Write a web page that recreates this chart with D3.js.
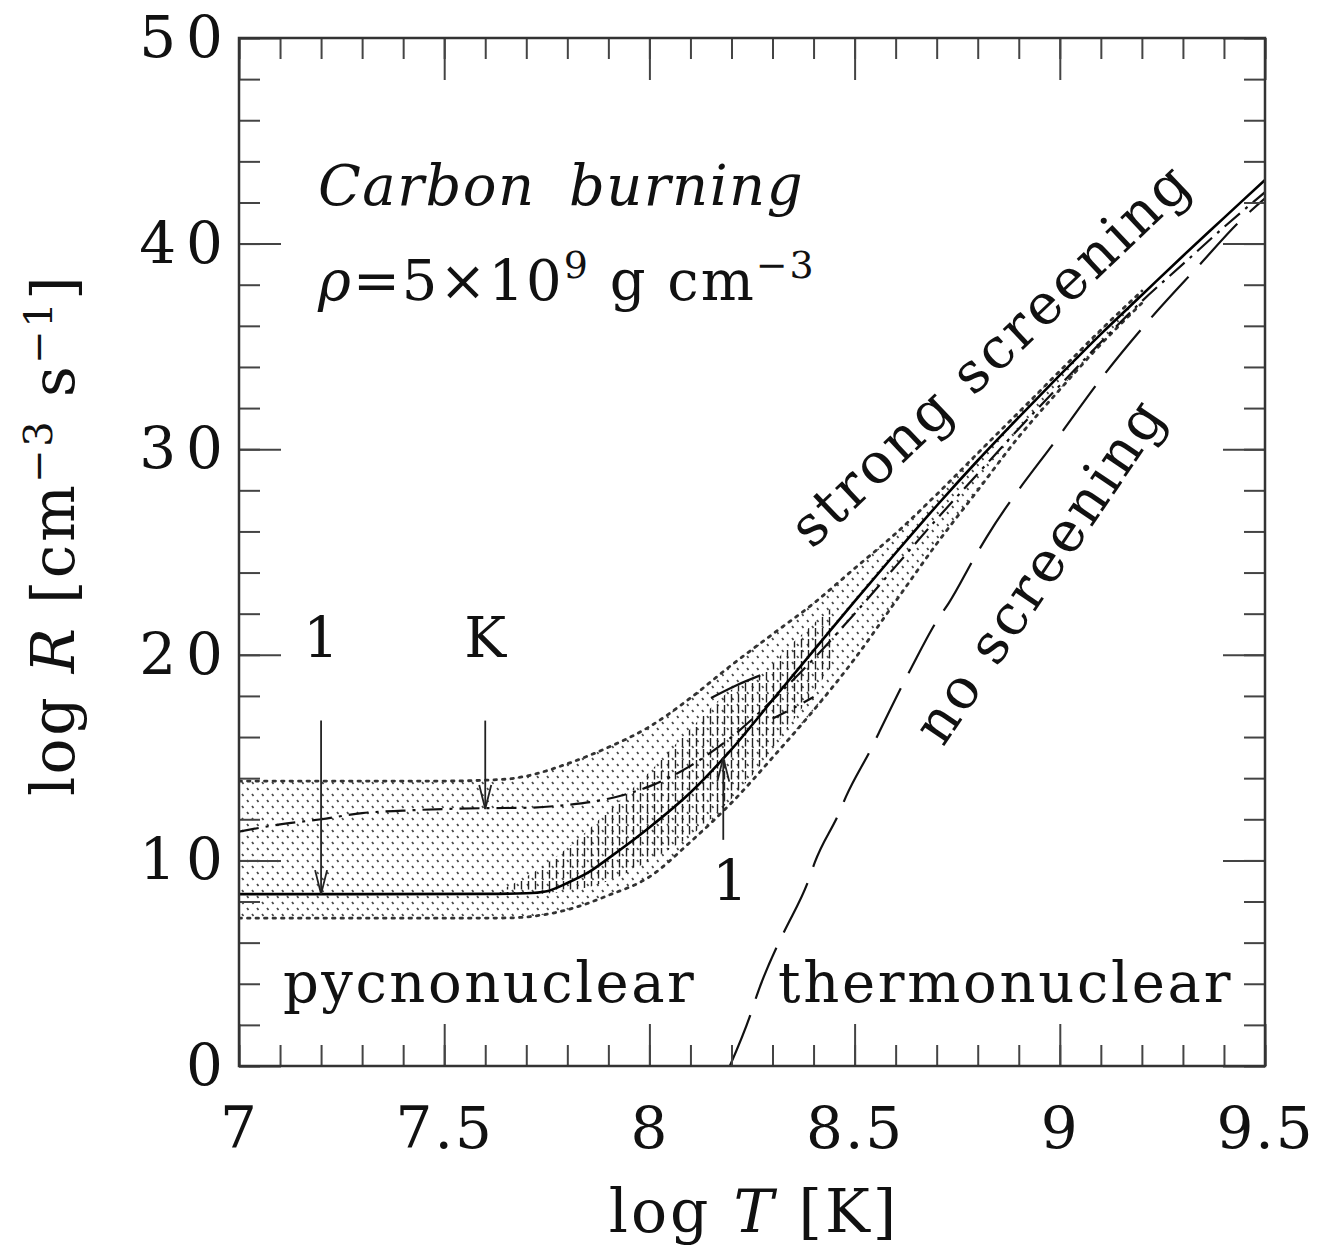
<!DOCTYPE html>
<html>
<head>
<meta charset="utf-8">
<script src="https://cdn.jsdelivr.net/npm/d3@7"></script>
<style>
  body { margin: 0; background: #fff; }
  text { font-family: "DejaVu Serif", serif; fill: #111; }
</style>
</head>
<body>
<div id="root"></div>
<script>
// ---- data ----
// strong screening, model 1 (solid)
const solidT = [7.0, 7.3, 7.6, 7.7, 7.75, 7.8, 7.85, 7.9, 8.0, 8.1, 8.2, 8.3, 8.4, 8.5, 8.6, 8.7, 8.8, 8.9, 9.0, 9.1, 9.2, 9.3, 9.4, 9.5];
const solidR = [8.36, 8.36, 8.37, 8.4, 8.5, 8.9, 9.4, 10.1, 11.6, 13.3, 15.4, 17.8, 20.2, 22.6, 24.95, 27.25, 29.45, 31.55, 33.6, 35.6, 37.5, 39.4, 41.25, 43.1];
// model K (dash-dot)
const kT = [7.0, 7.1, 7.2, 7.3, 7.4, 7.5, 7.6, 7.7, 7.8, 7.9, 8.0, 8.1, 8.2, 8.3, 8.4, 8.5, 8.6, 8.7, 8.8, 8.9, 9.0, 9.1, 9.2, 9.3, 9.4, 9.5];
const kR = [11.4, 11.75, 12.0, 12.3, 12.42, 12.5, 12.54, 12.56, 12.7, 13.0, 13.6, 14.6, 16.0, 17.8, 19.8, 22.0, 24.3, 26.6, 28.8, 31.0, 33.1, 35.2, 37.2, 39.0, 40.8, 42.5];
// no screening (long dashes)
const noScrT = [8.196, 8.248, 8.262, 8.313, 8.330, 8.389, 8.403, 8.462, 8.479, 8.542, 8.559, 8.639, 8.705, 8.729, 8.797, 8.821, 9.004, 9.111, 9.223, 9.342, 9.434, 9.5];
const noScrR = [0, 2.6, 3.45, 5.9, 6.6, 9.1, 9.9, 12.3, 13.1, 15.5, 16.2, 19.4, 21.8, 22.5, 24.9, 25.7, 30.8, 33.7, 36.4, 39.0, 41.0, 42.2];
// dotted uncertainty band
const bandT = [7.0, 7.5, 7.65, 7.7, 7.8, 7.9, 8.0, 8.1, 8.2, 8.3, 8.4, 8.5, 8.6, 8.7, 8.8, 8.9, 9.0, 9.1, 9.2];
const bandUpper = [13.86, 13.86, 13.95, 14.1, 14.7, 15.5, 16.5, 17.9, 19.5, 21.0, 22.5, 24.2, 25.9, 27.8, 29.8, 31.8, 33.8, 35.8, 37.7];
const bandLower = [7.19, 7.19, 7.2, 7.25, 7.6, 8.3, 9.2, 10.9, 12.8, 15.0, 17.3, 19.8, 22.6, 25.4, 28.0, 30.6, 32.9, 35.1, 37.1];
// hatched region around model 1
const hatchT = [7.62, 7.7, 7.8, 7.9, 8.0, 8.1, 8.2, 8.27, 8.35, 8.45];
const hatchUpper = [8.4, 9.2, 10.6, 12.4, 14.3, 16.4, 18.3, 19.0, 20.6, 22.4];
const hatchLower = [8.36, 8.36, 8.5, 9.0, 10.0, 11.2, 13.0, 14.6, 16.8, 19.6];
// short fragments
const edgeT = [8.15, 8.21, 8.27];
const edgeR = [17.9, 18.5, 19.0];
const fragT = [8.30, 8.35, 8.40];
const fragR = [16.9, 17.4, 17.95];
// axes
const xTicks = [7, 7.5, 8, 8.5, 9, 9.5];
const xTickLabels = ["7", "7.5", "8", "8.5", "9", "9.5"];
const yTicks = [0, 10, 20, 30, 40, 50];
const xMinor = d3.range(70, 96).map(d => d / 10);
const yMinor = d3.range(0, 51, 2);
// arrows: [logT, from logR, to logR]
const arrows = [[7.2, 16.8, 8.36], [7.6, 16.8, 12.5], [8.18, 11.0, 15.0]];

window.onload = function() { init(); };

let init = () => {
  const W = 1322, H = 1256;
  const svg = d3.select("#root").append("svg").attr("width", W).attr("height", H);
  const x = d3.scaleLinear().domain([7, 9.5]).range([239, 1265]);
  const y = d3.scaleLinear().domain([0, 50]).range([1066, 38]);

  const defs = svg.append("defs");
  const dots = defs.append("pattern").attr("id", "dots").attr("patternUnits", "userSpaceOnUse")
    .attr("width", 10).attr("height", 12);
  dots.append("path").attr("d", "M2,2 L3.5,4").attr("stroke", "#444").attr("stroke-width", 1.7);
  dots.append("path").attr("d", "M7,8 L8.5,10").attr("stroke", "#444").attr("stroke-width", 1.7);
  const hatch = defs.append("pattern").attr("id", "hatch").attr("patternUnits", "userSpaceOnUse")
    .attr("width", 7).attr("height", 11);
  hatch.append("path").attr("d", "M3.5,1 L3.5,9.5").attr("stroke", "#222").attr("stroke-width", 1.4);
  defs.append("clipPath").attr("id", "clip").append("rect")
    .attr("x", 239).attr("y", 38).attr("width", 1026).attr("height", 1028);

  const plot = svg.append("g").attr("clip-path", "url(#clip)");
  const pairs = (a, b) => a.map((t, i) => [t, b[i]]);
  const line = d3.line().x(d => x(d[0])).y(d => y(d[1])).curve(d3.curveMonotoneX);

  // dotted band
  plot.append("path").datum(bandT)
    .attr("d", d3.area().x(d => x(d)).y0((d, i) => y(bandLower[i])).y1((d, i) => y(bandUpper[i])).curve(d3.curveMonotoneX))
    .attr("fill", "url(#dots)");
  [bandUpper, bandLower].forEach(b => {
    plot.append("path").datum(pairs(bandT, b)).attr("d", line)
      .attr("fill", "none").attr("stroke", "#333").attr("stroke-width", 2.8)
      .attr("stroke-dasharray", "2.5,6").attr("stroke-linecap", "round");
  });

  // hatched region
  plot.append("path").datum(hatchT)
    .attr("d", d3.area().x(d => x(d)).y0((d, i) => y(hatchLower[i])).y1((d, i) => y(hatchUpper[i])).curve(d3.curveMonotoneX))
    .attr("fill", "url(#hatch)");

  // curves
  plot.append("path").datum(pairs(noScrT, noScrR)).attr("d", line)
    .attr("fill", "none").attr("stroke", "#111").attr("stroke-width", 2.2).attr("stroke-dasharray", "55,17");
  plot.append("path").datum(pairs(kT, kR)).attr("d", line)
    .attr("fill", "none").attr("stroke", "#111").attr("stroke-width", 2.2).attr("stroke-dasharray", "20,7,3,7");
  plot.append("path").datum(pairs(solidT, solidR)).attr("d", line)
    .attr("fill", "none").attr("stroke", "#000").attr("stroke-width", 2.6);
  plot.append("path").datum(pairs(edgeT, edgeR)).attr("d", line)
    .attr("fill", "none").attr("stroke", "#111").attr("stroke-width", 2.2);
  plot.append("path").datum(pairs(fragT, fragR)).attr("d", line)
    .attr("fill", "none").attr("stroke", "#111").attr("stroke-width", 2.2).attr("stroke-dasharray", "16,8,3,8");

  // arrows
  arrows.forEach(a => {
    const ax = x(a[0]), y0 = y(a[1]), y1 = y(a[2]);
    const dir = y1 > y0 ? 1 : -1;
    svg.append("line").attr("x1", ax).attr("x2", ax).attr("y1", y0).attr("y2", y1)
      .attr("stroke", "#222").attr("stroke-width", 1.8);
    svg.append("path").attr("d", `M${ax - 6},${y1 - dir * 24} L${ax},${y1} L${ax + 6},${y1 - dir * 24}`)
      .attr("fill", "none").attr("stroke", "#222").attr("stroke-width", 1.8);
  });

  // axes with inward ticks on all four sides
  const axG = svg.append("g");
  const clean = g => { g.select(".domain").remove(); g.selectAll("line").attr("stroke", "#444").attr("stroke-width", 2); };
  axG.append("g").attr("transform", "translate(0,1066)")
    .call(d3.axisBottom(x).tickValues(xMinor).tickSizeInner(-21).tickSizeOuter(0).tickFormat("")).call(clean);
  axG.append("g").attr("transform", "translate(0,38)")
    .call(d3.axisTop(x).tickValues(xMinor).tickSizeInner(-21).tickSizeOuter(0).tickFormat("")).call(clean);
  axG.append("g").attr("transform", "translate(239,0)")
    .call(d3.axisLeft(y).tickValues(yMinor).tickSizeInner(-21).tickSizeOuter(0).tickFormat("")).call(clean);
  axG.append("g").attr("transform", "translate(1265,0)")
    .call(d3.axisRight(y).tickValues(yMinor).tickSizeInner(-21).tickSizeOuter(0).tickFormat("")).call(clean);

  const xb = axG.append("g").attr("transform", "translate(0,1066)")
    .call(d3.axisBottom(x).tickValues(xTicks).tickSizeInner(-42).tickSizeOuter(0).tickPadding(41)
      .tickFormat((d, i) => xTickLabels[i])).call(clean);
  axG.append("g").attr("transform", "translate(0,38)")
    .call(d3.axisTop(x).tickValues(xTicks).tickSizeInner(-42).tickSizeOuter(0).tickFormat("")).call(clean);
  const yl = axG.append("g").attr("transform", "translate(239,0)")
    .call(d3.axisLeft(y).tickValues(yTicks).tickSizeInner(-42).tickSizeOuter(0).tickPadding(6)).call(clean);
  axG.append("g").attr("transform", "translate(1265,0)")
    .call(d3.axisRight(y).tickValues(yTicks).tickSizeInner(-42).tickSizeOuter(0).tickFormat("")).call(clean);
  [xb, yl].forEach(g => g.selectAll("text").attr("font-family", "DejaVu Serif").attr("font-size", 58).attr("fill", "#111"));
  xb.selectAll("text").attr("letter-spacing", 2);
  yl.selectAll("text").attr("letter-spacing", 10);

  svg.append("rect").attr("x", 239).attr("y", 38).attr("width", 1026).attr("height", 1028)
    .attr("fill", "none").attr("stroke", "#333").attr("stroke-width", 2.5);

  // axis titles
  const xt = svg.append("text").attr("x", 754).attr("y", 1232).attr("text-anchor", "middle")
    .attr("font-size", 60).attr("letter-spacing", 3);
  xt.append("tspan").text("log ");
  xt.append("tspan").attr("font-style", "italic").text("T");
  xt.append("tspan").text(" [K]");

  const yt = svg.append("text").attr("transform", "translate(74,535) rotate(-90)")
    .attr("text-anchor", "middle").attr("font-size", 60).attr("letter-spacing", 2.5);
  yt.append("tspan").text("log ");
  yt.append("tspan").attr("font-style", "italic").text("R");
  yt.append("tspan").text(" [cm");
  yt.append("tspan").attr("dy", -22).attr("font-size", 40).text("\u22123");
  yt.append("tspan").attr("dy", 22).text(" s");
  yt.append("tspan").attr("dy", -22).attr("font-size", 40).text("\u22121");
  yt.append("tspan").attr("dy", 22).text("]");

  // annotations
  svg.append("text").attr("x", 318).attr("y", 205).attr("font-size", 56).attr("font-style", "italic")
    .attr("letter-spacing", 1.5).attr("word-spacing", 14).text("Carbon burning");
  const rho = svg.append("text").attr("x", 318).attr("y", 300).attr("font-size", 56).attr("letter-spacing", 2);
  rho.append("tspan").attr("font-style", "italic").text("\u03c1");
  rho.append("tspan").text("=5\u00d710");
  rho.append("tspan").attr("dy", -22).attr("font-size", 38).text("9");
  rho.append("tspan").attr("dy", 22).text(" g cm");
  rho.append("tspan").attr("dy", -22).attr("font-size", 38).text("\u22123");

  const lab = (s, px, py) => svg.append("text").attr("x", px).attr("y", py)
    .attr("text-anchor", "middle").attr("font-size", 56).text(s);
  lab("1", x(7.2), 657);
  lab("K", x(7.6), 657);
  lab("1", 730, 900);
  svg.append("text").attr("x", 283).attr("y", 1002).attr("font-size", 56).attr("letter-spacing", 2.5).text("pycnonuclear");
  svg.append("text").attr("x", 778).attr("y", 1002).attr("font-size", 56).attr("letter-spacing", 2.7).text("thermonuclear");
  svg.append("text").attr("transform", "translate(812,550) rotate(-43.5)").attr("font-size", 56)
    .attr("letter-spacing", 3).text("strong screening");
  svg.append("text").attr("transform", "translate(943,748) rotate(-56)").attr("font-size", 56)
    .attr("letter-spacing", 3).text("no screening");
};
</script>
</body>
</html>
